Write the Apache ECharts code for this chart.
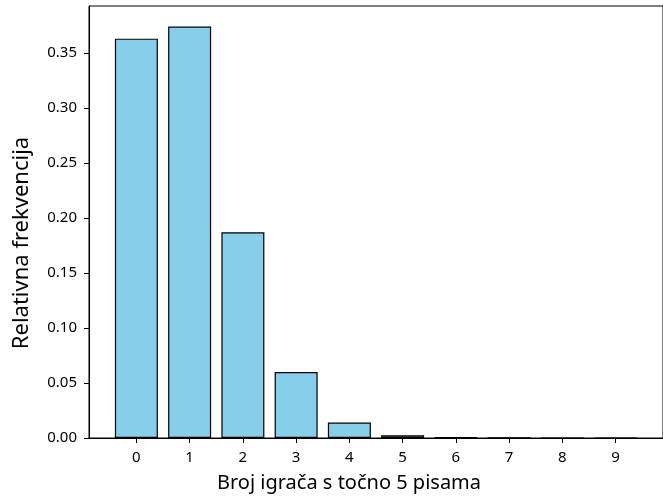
<!DOCTYPE html>
<html>
<head>
<meta charset="utf-8">
<script src="https://cdn.jsdelivr.net/npm/echarts@6/dist/echarts.min.js"></script>
<style>
  html, body { margin: 0; padding: 0; background: #fff; }
  #chart { width: 663px; height: 499px; }
</style>
</head>
<body>
<div id="chart"></div>
<script>
// broj igraca i relativne frekvencije (ocitano sa slike)
const players = [0, 1, 2, 3, 4, 5, 6, 7, 8, 9];
const freqs = [0.363, 0.374, 0.187, 0.060, 0.014, 0.0025, 0.0005, 0.0001, 0.00002, 0];
const yTicks = [0, 0.05, 0.10, 0.15, 0.20, 0.25, 0.30, 0.35];

const fontFam = '"Noto Sans", sans-serif';

var chart = echarts.init(document.getElementById('chart'));

var option = {
    animation: false,
    grid: {
        left: 89,
        top: 6,
        right: -6,
        bottom: 61,
        show: true,
        borderColor: '#000',
        borderWidth: 1
    },
    xAxis: {
        type: 'value',
        min: -0.89,
        max: 9.89,
        name: 'Broj igrača s točno 5 pisama',
        nameLocation: 'middle',
        nameGap: 35,
        nameTextStyle: {
            fontFamily: fontFam,
            fontSize: 20,
            color: '#000',
            padding: [0, 54, 0, 0]
        },
        splitLine: { show: false },
        axisLine: { show: true, onZero: false, lineStyle: { color: '#000', width: 1 } },
        axisTick: { show: true, length: 5, customValues: players, lineStyle: { color: '#000' } },
        axisLabel: {
            customValues: players,
            fontFamily: fontFam,
            fontSize: 15,
            color: '#000',
            margin: 12,
            formatter: function (v) { return String(v); }
        }
    },
    yAxis: {
        type: 'value',
        min: 0,
        max: 0.3927,
        name: 'Relativna frekvencija',
        nameLocation: 'middle',
        nameGap: 56,
        nameTextStyle: {
            fontFamily: fontFam,
            fontSize: 22,
            color: '#000',
            padding: [0, 42, 0, 0]
        },
        splitLine: { show: false },
        axisLine: { show: true, onZero: false, lineStyle: { color: '#000', width: 1 } },
        axisTick: { show: true, length: 5, customValues: yTicks, lineStyle: { color: '#000' } },
        axisLabel: {
            customValues: yTicks,
            fontFamily: fontFam,
            fontSize: 15,
            color: '#000',
            margin: 12,
            formatter: function (v) { return v.toFixed(2); }
        }
    },
    series: [{
        type: 'bar',
        barWidth: 43,
        data: players.map(function (p, i) { return [p, freqs[i]]; }),
        itemStyle: {
            color: '#87CEEB',
            borderColor: '#000',
            borderWidth: 1.2
        }
    }]
};

option && chart.setOption(option);
</script>
</body>
</html>
